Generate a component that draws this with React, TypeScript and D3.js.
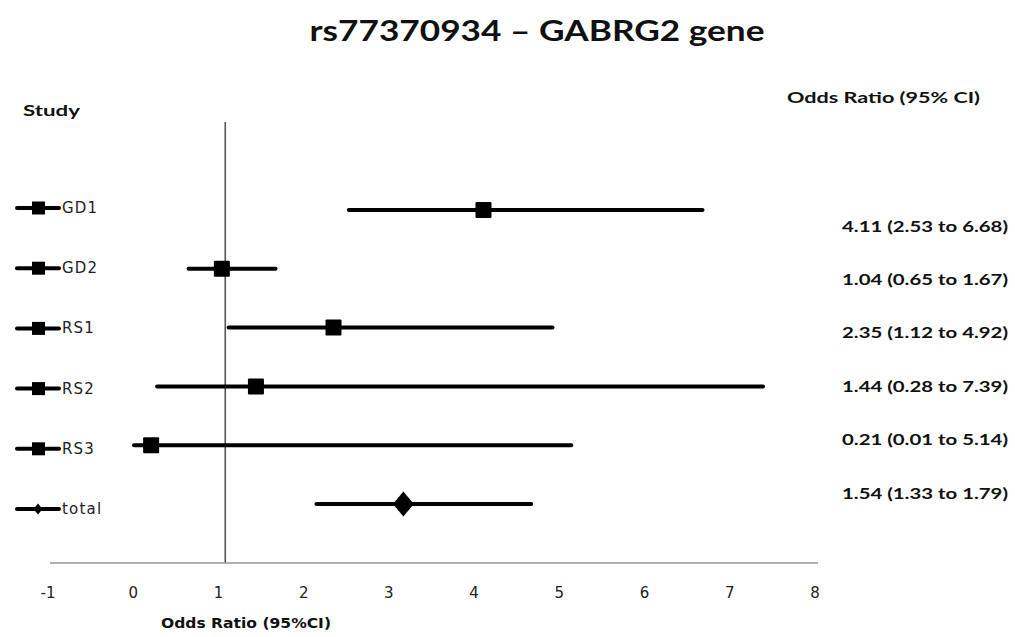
import React from "react";
import * as d3 from "d3";

const studies = ["GD1", "GD2", "RS1", "RS2", "RS3", "total"];
const legendLabels = ["GD1", "GD2", "RS1", "RS2", "RS3", "total"];
const estimates = [4.11, 1.04, 2.35, 1.44, 0.21, 3.17];
const lowerCI = [2.53, 0.65, 1.12, 0.28, 0.01, 2.15];
const upperCI = [6.68, 1.67, 4.92, 7.39, 5.14, 4.67];
const ciLabels = [
  "4.11 (2.53 to 6.68)",
  "1.04 (0.65 to 1.67)",
  "2.35 (1.12 to 4.92)",
  "1.44 (0.28 to 7.39)",
  "0.21 (0.01 to 5.14)",
  "1.54 (1.33 to 1.79)",
];
const xTicks = [-1, 0, 1, 2, 3, 4, 5, 6, 7, 8];
const refValue = 1.08;

const W = 1015;
const H = 637;

function diamondPath(cx: number, cy: number, hw: number, hh: number) {
  const p = d3.path();
  p.moveTo(cx, cy - hh);
  p.lineTo(cx + hw, cy);
  p.lineTo(cx, cy + hh);
  p.lineTo(cx - hw, cy);
  p.closePath();
  return p.toString();
}

export default function App() {
  const x = d3.scaleLinear().domain([-1, 8]).range([48, 815]);
  const y = d3.scalePoint<string>().domain(studies).range([210, 504]);
  const yLegend = d3.scalePoint<string>().domain(legendLabels).range([208, 509]);
  const yLabel = d3.scalePoint<string>().domain(studies).range([225, 492]);
  const axisY = 563;

  return (
    <svg
      width={W}
      height={H}
      style={{ position: "absolute", left: 0, top: 0, background: "#fff" }}
    >
      <text
        x={537}
        y={41}
        textAnchor="middle"
        fontFamily="Lato, 'Open Sans', sans-serif"
        fontWeight={700}
        fontSize={29}
        textLength={455}
        lengthAdjust="spacingAndGlyphs"
        fill="#111"
      >
        rs77370934 – GABRG2 gene
      </text>
      <text
        x={23}
        y={116}
        fontFamily="Lato, sans-serif"
        fontWeight={700}
        fontSize={16}
        textLength={57}
        lengthAdjust="spacingAndGlyphs"
        fill="#111"
      >
        Study
      </text>
      <text
        x={787}
        y={103}
        fontFamily="Lato, sans-serif"
        fontWeight={700}
        fontSize={16}
        textLength={193}
        lengthAdjust="spacingAndGlyphs"
        fill="#111"
      >
        Odds Ratio (95% CI)
      </text>

      {/* reference line */}
      <line
        x1={x(refValue)}
        x2={x(refValue)}
        y1={122}
        y2={axisY}
        stroke="#555"
        strokeWidth={1.6}
      />

      {/* x axis */}
      <line x1={x(-1) + 2} x2={x(8) + 3} y1={axisY} y2={axisY} stroke="#999" strokeWidth={1.6} />
      {xTicks.map((t) => (
        <text
          key={t}
          x={x(t)}
          y={598}
          textAnchor="middle"
          fontFamily="'DejaVu Sans', sans-serif"
          fontSize={15}
          fill="#222"
        >
          {t}
        </text>
      ))}
      <text
        x={246}
        y={628}
        textAnchor="middle"
        fontFamily="'DejaVu Sans', sans-serif"
        fontWeight={700}
        fontSize={14}
        textLength={170}
        lengthAdjust="spacingAndGlyphs"
        fill="#111"
      >
        Odds Ratio (95%CI)
      </text>

      {/* error bars and markers */}
      {studies.map((s, i) => {
        const cy = y(s) as number;
        const isTotal = s === "total";
        return (
          <g key={s}>
            <line
              x1={x(lowerCI[i])}
              x2={x(upperCI[i])}
              y1={cy}
              y2={cy}
              stroke="#000"
              strokeWidth={4}
              strokeLinecap="round"
            />
            {isTotal ? (
              <path d={diamondPath(x(estimates[i]), cy, 10.5, 12.5)} fill="#000" />
            ) : (
              <rect
                x={x(estimates[i]) - 8}
                y={cy - 8}
                width={16}
                height={16}
                fill="#000"
                rx={1}
              />
            )}
          </g>
        );
      })}

      {/* legend */}
      {legendLabels.map((s) => {
        const cy = yLegend(s) as number;
        const isTotal = s === "total";
        return (
          <g key={s}>
            <line x1={17} x2={59} y1={cy} y2={cy} stroke="#000" strokeWidth={4} strokeLinecap="round" />
            {isTotal ? (
              <path d={diamondPath(38, cy, 4.5, 5.5)} fill="#000" />
            ) : (
              <rect x={32} y={cy - 6.5} width={13} height={13} fill="#000" />
            )}
            <text
              x={62}
              y={cy}
              dominantBaseline="central"
              fontFamily="'DejaVu Sans', sans-serif"
              fontSize={15}
              letterSpacing={1.2}
              fill="#222"
            >
              {s}
            </text>
          </g>
        );
      })}

      {/* CI labels */}
      {studies.map((s, i) => (
        <text
          key={s}
          x={1008}
          y={yLabel(s) as number}
          textAnchor="end"
          dominantBaseline="central"
          fontFamily="Lato, sans-serif"
          fontWeight={700}
          fontSize={16}
          textLength={166}
          lengthAdjust="spacingAndGlyphs"
          fill="#111"
        >
          {ciLabels[i]}
        </text>
      ))}
    </svg>
  );
}
